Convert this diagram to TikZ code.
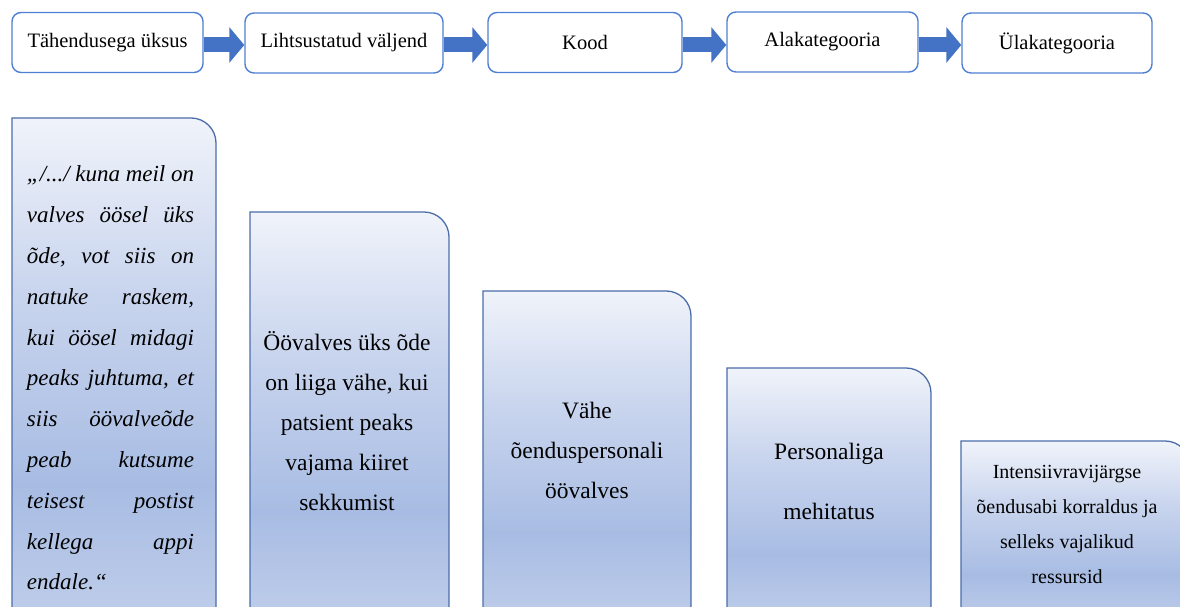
\documentclass[tikz,border=0pt]{standalone}
\usepackage{fontspec}
\setmainfont{Liberation Serif}
\usetikzlibrary{arrows.meta}
\definecolor{topborder}{HTML}{4F7FD2}
\definecolor{arrowblue}{HTML}{4472C4}
\definecolor{botborder}{HTML}{4A6DAA}
\definecolor{shTop}{HTML}{F0F3FA}
\definecolor{shMid}{HTML}{C9D5EE}
\definecolor{shDark}{HTML}{A8BCE3}
\definecolor{shBot}{HTML}{C0CEEA}
\pgfdeclareverticalshading{boxshade}{100bp}{color(0bp)=(shBot); color(25bp)=(shBot); color(39bp)=(shDark); color(58bp)=(shMid); color(75bp)=(shTop); color(100bp)=(shTop)}
\newcommand\tabshape[3]{\draw[tabbox] (#1,-20) -- (#1,#3) -- (#2-25,#3) arc[start angle=90,end angle=0,radius=25] -- (#2,-20) -- cycle;}
\newcommand\jline[1]{\makebox[167pt][l]{#1}}
\begin{document}
\begin{tikzpicture}[x=1pt,y=1pt,
  topbox/.style={draw=topborder, line width=1.4pt, rounded corners=9pt, fill=white,
    minimum height=60pt, inner sep=0pt, font=\fontsize{20.5}{24}\selectfont},
  flow/.style={arrowblue, line width=15pt, -{Triangle[length=15pt,width=35pt]}},
  tabbox/.style={draw=botborder, line width=1.3pt, shading=boxshade},
  boxtext/.style={align=center, inner sep=0pt, font=\fontsize{23.5}{40}\selectfont}]
\useasboundingbox (0,0) rectangle (1180,607);
\clip (0,0) rectangle (1180,607);

% top row
\node[topbox, minimum width=191pt] (t1) at (107.5,564.5) {Tähendusega üksus};
\node[topbox, minimum width=198pt] (t2) at (344,564) {Lihtsustatud väljend};
\node[topbox, minimum width=194pt] (t3) at (585,564.5) {Kood};
\node[topbox, minimum width=191pt] (t4) at (822.5,565) {Alakategooria};
\node[topbox, minimum width=190pt] (t5) at (1057,564) {Ülakategooria};
\draw[flow] (t1.east |- 0,562) -- (t2.west |- 0,562);
\draw[flow] (t2.east |- 0,562) -- (t3.west |- 0,562);
\draw[flow] (t3.east |- 0,562) -- (t4.west |- 0,562);
\draw[flow] (t4.east |- 0,562) -- (t5.west |- 0,562);

% bottom tabs
\tabshape{12}{216}{489}
\tabshape{250}{449}{395}
\tabshape{483}{691}{316}
\tabshape{727}{931}{239}
\tabshape{961}{1190}{166}

\node[align=left, inner sep=0pt, text width=167pt,
  font=\fontsize{23}{40.8}\selectfont\itshape] (q) at (110.5,229) {%
\jline{„/.../\hfill kuna\hfill meil\hfill on}\\
\jline{valves\hfill öösel\hfill üks}\\
\jline{õde,\hfill vot\hfill siis\hfill on}\\
\jline{natuke\hfill raskem,}\\
\jline{kui\hfill öösel\hfill midagi}\\
\jline{peaks\hfill juhtuma,\hfill et}\\
\jline{siis\hfill öövalveõde}\\
\jline{peab\hfill kutsume}\\
\jline{teisest\hfill postist}\\
\jline{kellega\hfill appi}\\
endale.“};
\node[boxtext] (s) at (347,186) {Öövalves üks õde\\on liiga vähe, kui\\patsient peaks\\vajama kiiret\\sekkumist};
\node[boxtext] (k) at (587,157) {Vähe\\õenduspersonali\\öövalves};
\node[boxtext, font=\fontsize{23.5}{60}\selectfont] (a) at (829,126) {Personaliga\\mehitatus};
\node[boxtext, font=\fontsize{20}{35}\selectfont] (u) at (1067,83) {Intensiivravijärgse\\õendusabi korraldus ja\\selleks vajalikud\\ressursid};
\end{tikzpicture}
\end{document}
